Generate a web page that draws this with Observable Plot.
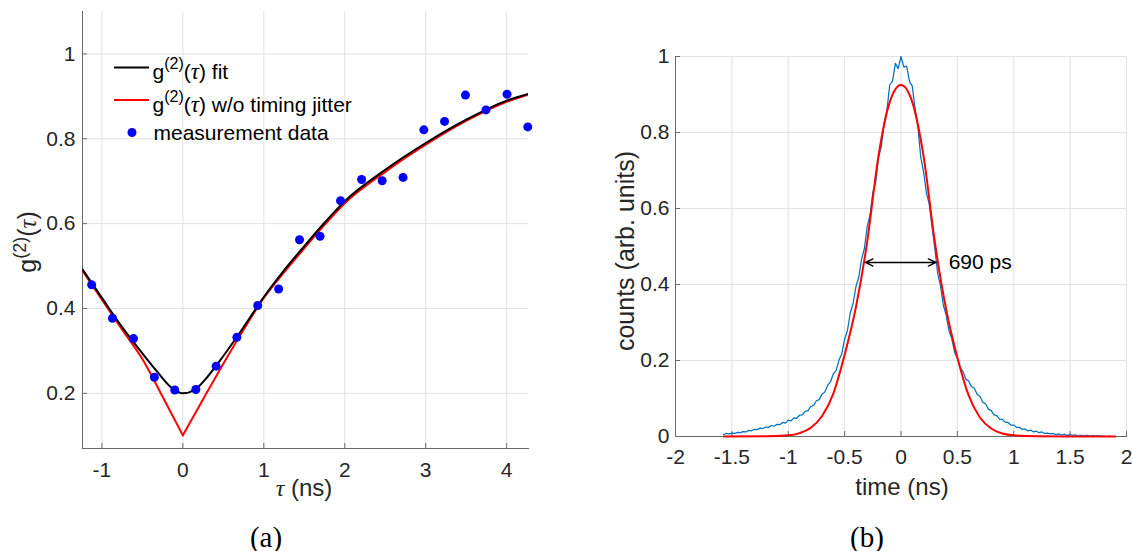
<!DOCTYPE html>
<html><head><meta charset="utf-8">
<script src="https://cdn.jsdelivr.net/npm/d3@7"></script>
<script src="https://cdn.jsdelivr.net/npm/@observablehq/plot@0.6"></script>
<style>
body{margin:0;background:#fff;}
#wrap{position:relative;width:1133px;height:551px;overflow:hidden;background:#fff;font-family:"Liberation Sans",Arial,sans-serif;}
.panel{position:absolute;top:0;}
.lab{position:absolute;white-space:nowrap;line-height:1;color:#262626;font-size:24px;transform:translate(-50%,-50%);}
.big{font-size:25px;}
.rot{transform:translate(-50%,-50%) rotate(-90deg);}
.cap{position:absolute;font-family:"Liberation Serif","Times New Roman",serif;font-size:29px;line-height:1;color:#000;transform:translate(-50%,-50%);}
.tau{font-family:"Liberation Serif","Times New Roman",serif;font-style:italic;}
sup{font-size:18px;vertical-align:0;position:relative;top:-10px;}
</style></head><body><div id="wrap"></div>
<script>
// ---------- panel (a) data ----------
const tauTicks = [-1, 0, 1, 2, 3, 4];
const g2Ticks = [0.2, 0.4, 0.6, 0.8, 1];
const tauDomain = [-1.24, 4.27];
const g2Domain = [0.07, 1.1];
const measTau = [-1.127, -0.870, -0.610, -0.352, -0.100, 0.160, 0.411, 0.667, 0.925, 1.183, 1.441, 1.695, 1.948, 2.208, 2.462, 2.720, 2.977, 3.233, 3.491, 3.745, 4.005, 4.261];
const measG2 = [0.456, 0.377, 0.329, 0.238, 0.208, 0.209, 0.264, 0.332, 0.407, 0.446, 0.562, 0.570, 0.654, 0.704, 0.701, 0.709, 0.821, 0.841, 0.903, 0.868, 0.905, 0.828];
const fitTau = [-1.24, -1.0, -0.75, -0.5, -0.3, -0.15, 0, 0.15, 0.3, 0.5, 0.75, 1.0, 1.25, 1.5, 1.75, 2.0, 2.5, 3.0, 3.5, 4.0, 4.27];
const fitG2 = [0.492, 0.425, 0.356, 0.294, 0.247, 0.215, 0.200, 0.209, 0.238, 0.288, 0.356, 0.427, 0.490, 0.547, 0.602, 0.653, 0.727, 0.790, 0.845, 0.890, 0.906];
const idealLeftTau = [-1.24, -1.0, -0.75, -0.5, -0.25, 0];
const idealLeftG2 = [0.489, 0.421, 0.350, 0.281, 0.192, 0.101];
const idealRightTau = [0, 0.25, 0.5, 0.75, 1.0, 1.25, 1.5, 1.75, 2.0, 2.5, 3.0, 3.5, 4.0, 4.27];
const idealRightG2 = [0.101, 0.186, 0.270, 0.350, 0.425, 0.485, 0.542, 0.597, 0.648, 0.722, 0.786, 0.842, 0.887, 0.904];

// ---------- panel (b) data ----------
const timeTicks = [-2, -1.5, -1, -0.5, 0, 0.5, 1, 1.5, 2];
const countTicks = [0, 0.2, 0.4, 0.6, 0.8, 1];
const timeDomain = [-2, 2];
const countDomain = [0, 1];
const histTime = [
-1.575,-1.55,-1.525,-1.5,-1.475,-1.45,-1.425,-1.4,-1.375,-1.35,
-1.325,-1.3,-1.275,-1.25,-1.225,-1.2,-1.175,-1.15,-1.125,-1.1,
-1.075,-1.05,-1.025,-1,-0.975,-0.95,-0.925,-0.9,-0.875,-0.85,
-0.825,-0.8,-0.775,-0.75,-0.725,-0.7,-0.675,-0.65,-0.625,-0.6,
-0.575,-0.55,-0.525,-0.5,-0.475,-0.45,-0.425,-0.4,-0.375,-0.35,
-0.325,-0.3,-0.275,-0.25,-0.225,-0.2,-0.175,-0.15,-0.125,-0.1,
-0.075,-0.05,-0.025,0,0.025,0.05,0.075,0.1,0.125,0.15,
0.175,0.2,0.225,0.25,0.275,0.3,0.325,0.35,0.375,0.4,
0.425,0.45,0.475,0.5,0.525,0.55,0.575,0.6,0.625,0.65,
0.675,0.7,0.725,0.75,0.775,0.8,0.825,0.85,0.875,0.9,
0.925,0.95,0.975,1,1.025,1.05,1.075,1.1,1.125,1.15,
1.175,1.2,1.225,1.25,1.275,1.3,1.325,1.35,1.375,1.4,
1.425,1.45,1.475,1.5,1.525,1.55,1.575,1.6,1.625,1.65,
1.675,1.7,1.725,1.75,1.775,1.8,1.825,1.85,1.875];
const histCounts = [
0.005,0.008,0.007,0.009,0.008,0.011,0.010,0.013,0.012,0.016,
0.015,0.019,0.018,0.022,0.021,0.025,0.024,0.029,0.027,0.032,
0.031,0.037,0.035,0.043,0.041,0.049,0.048,0.056,0.057,0.066,
0.068,0.079,0.082,0.094,0.097,0.112,0.117,0.135,0.144,0.165,
0.174,0.201,0.218,0.256,0.279,0.325,0.350,0.394,0.419,0.466,
0.494,0.552,0.583,0.642,0.668,0.733,0.762,0.824,0.858,0.925,
0.935,0.982,0.968,1.000,0.972,0.975,0.935,0.922,0.862,0.815,
0.735,0.697,0.642,0.612,0.553,0.495,0.430,0.397,0.346,0.320,
0.279,0.258,0.222,0.205,0.181,0.171,0.151,0.146,0.131,0.127,
0.111,0.106,0.090,0.086,0.072,0.068,0.057,0.055,0.045,0.045,
0.037,0.037,0.030,0.030,0.024,0.024,0.019,0.020,0.015,0.017,
0.012,0.014,0.010,0.012,0.008,0.009,0.007,0.008,0.005,0.007,
0.004,0.006,0.003,0.005,0.003,0.004,0.002,0.003,0.002,0.003,
0.001,0.002,0.001,0.002,0.001,0.001,0.000,0.001,0.000];
const gaussTime = [-1.57, -1.2, -1.0, -0.9, -0.8, -0.7, -0.6, -0.5, -0.4, -0.3, -0.2, -0.1, 0, 0.1, 0.2, 0.3, 0.4, 0.5, 0.6, 0.7, 0.8, 0.9, 1.0, 1.2, 1.5, 1.9];
const gaussCounts = [0, 0.0005, 0.003, 0.009, 0.023, 0.054, 0.113, 0.215, 0.340, 0.512, 0.738, 0.880, 0.925, 0.880, 0.738, 0.512, 0.335, 0.208, 0.108, 0.050, 0.021, 0.008, 0.003, 0.0005, 0, 0];
const arrowStart = [0, 0];
const arrowEnd = [-0.316, 0.31];
const arrowLevel = 0.458;
const annotText = "690 ps";
const annotTime = 0.423;

// ---------- helpers ----------
const FONT = "Liberation Sans, Arial, Helvetica, sans-serif";
const GRID = "#e2e2e2";
const AXIS = "#6a6a6a";
const TXT = "#262626";
const fmt = d => String(d);

// ---------- panel (a) ----------
const Lw = 560, Lh = 500, Lml = 82, Lmr = 32, Lmt = 11, Lmb = 52;
const fitData = fitTau.map((t, i) => ({t, g: fitG2[i]}));
const idealData = [
  ...idealLeftTau.map((t, i) => ({t, g: idealLeftG2[i], b: "left"})),
  ...idealRightTau.map((t, i) => ({t, g: idealRightG2[i], b: "right"}))
];
const measData = measTau.map((t, i) => ({t, g: measG2[i]}));

const left = Plot.plot({
  width: Lw, height: Lh,
  marginLeft: Lml, marginRight: Lmr, marginTop: Lmt, marginBottom: Lmb,
  x: {domain: tauDomain},
  y: {domain: g2Domain},
  style: {fontFamily: FONT, fontSize: "21px", color: TXT, background: "transparent", overflow: "visible"},
  marks: [
    Plot.gridX(tauTicks, {stroke: GRID, strokeOpacity: 1}),
    Plot.gridY(g2Ticks, {stroke: GRID, strokeOpacity: 1}),
    Plot.tickX(tauTicks, {x: d => d, stroke: AXIS, insetTop: Lh - Lmt - Lmb - 5}),
    Plot.tickY(g2Ticks, {y: d => d, stroke: AXIS, insetRight: Lw - Lml - Lmr - 5}),
    Plot.frame({anchor: "left", stroke: AXIS}),
    Plot.frame({anchor: "bottom", stroke: AXIS}),
    Plot.axisX({ticks: tauTicks, tickSize: 0, tickPadding: 14, tickFormat: fmt, fontSize: 21, fill: TXT, label: null}),
    Plot.axisY({ticks: g2Ticks, tickSize: 0, tickPadding: 7, tickFormat: fmt, fontSize: 21, fill: TXT, label: null}),
    Plot.line(idealData, {x: "t", y: "g", z: "b", stroke: "#ff0000", strokeWidth: 2, curve: "monotone-x", clip: true}),
    Plot.line(fitData, {x: "t", y: "g", stroke: "#000000", strokeWidth: 2, curve: "monotone-x", clip: true}),
    Plot.dot(measData, {x: "t", y: "g", r: 4.5, fill: "#0000ff", stroke: null})
  ]
});
left.classList.add("panel");
left.style.left = "0px";

// legend for (a)
const lg = d3.select(left).append("g")
  .attr("font-family", FONT).attr("font-size", 21).attr("fill", "#000").attr("text-anchor", "start");
function g2Text(sel, x, y, rest) {
  const t = sel.append("text").attr("x", x).attr("y", y).attr("text-anchor", "start");
  t.append("tspan").text("g");
  t.append("tspan").attr("font-size", 16).attr("dy", -10).text("(2)");
  t.append("tspan").attr("dy", 10).text("(");
  t.append("tspan").attr("font-family", "Liberation Serif, Times New Roman, serif").attr("font-style", "italic").attr("font-size", 23).text("τ");
  t.append("tspan").text(")" + rest);
}
lg.append("line").attr("x1", 114).attr("x2", 149).attr("y1", 67.5).attr("y2", 67.5).attr("stroke", "#000").attr("stroke-width", 2);
g2Text(lg, 152.5, 78.5, " fit");
lg.append("line").attr("x1", 114).attr("x2", 149).attr("y1", 100).attr("y2", 100).attr("stroke", "#ff0000").attr("stroke-width", 2);
g2Text(lg, 152.5, 112, " w/o timing jitter");
lg.append("circle").attr("cx", 132).attr("cy", 132.5).attr("r", 4.5).attr("fill", "#0000ff");
lg.append("text").attr("x", 153.5).attr("y", 140).attr("text-anchor", "start").text("measurement data");

// ---------- panel (b) ----------
const Rw = 553, Rh = 500, Rml = 95, Rmr = 7, Rmt = 56, Rmb = 64;
const histData = histTime.map((t, i) => ({t, c: histCounts[i]}));
const gaussData = gaussTime.map((t, i) => ({t, c: gaussCounts[i]}));
const arrows = arrowEnd.map((e, i) => ({x1: arrowStart[i], x2: e, y: arrowLevel}));

const right = Plot.plot({
  width: Rw, height: Rh,
  marginLeft: Rml, marginRight: Rmr, marginTop: Rmt, marginBottom: Rmb,
  x: {domain: timeDomain},
  y: {domain: countDomain},
  style: {fontFamily: FONT, fontSize: "21px", color: TXT, background: "transparent", overflow: "visible"},
  marks: [
    Plot.gridX(timeTicks, {stroke: GRID, strokeOpacity: 1}),
    Plot.gridY(countTicks, {stroke: GRID, strokeOpacity: 1}),
    Plot.tickX(timeTicks, {x: d => d, stroke: AXIS, insetTop: Rh - Rmt - Rmb - 5}),
    Plot.tickY(countTicks, {y: d => d, stroke: AXIS, insetRight: Rw - Rml - Rmr - 5}),
    Plot.frame({anchor: "left", stroke: AXIS}),
    Plot.frame({anchor: "bottom", stroke: AXIS}),
    Plot.axisX({ticks: timeTicks, tickSize: 0, tickPadding: 13, tickFormat: fmt, fontSize: 21, fill: TXT, label: null}),
    Plot.axisY({ticks: countTicks, tickSize: 0, tickPadding: 6, tickFormat: fmt, fontSize: 21, fill: TXT, label: null}),
    Plot.line(histData, {x: "t", y: "c", stroke: "#0072bd", strokeWidth: 1.25}),
    Plot.line(gaussData, {x: "t", y: "c", stroke: "#ff0000", strokeWidth: 2, curve: "monotone-x"}),
    Plot.arrow(arrows, {x1: "x1", x2: "x2", y1: "y", y2: "y", stroke: "#000", strokeWidth: 1.4, headLength: 9, headAngle: 50}),
    Plot.text([annotText], {x: annotTime, y: arrowLevel, text: d => d, textAnchor: "start", lineAnchor: "middle", fontSize: 21, fill: "#000"})
  ]
});
right.classList.add("panel");
right.style.left = "580px";

const wrap = document.getElementById("wrap");
wrap.appendChild(left);
wrap.appendChild(right);

// axis labels and captions
function addDiv(cls, html, x, y) {
  const d = document.createElement("div");
  d.className = cls;
  d.innerHTML = html;
  d.style.left = x + "px";
  d.style.top = y + "px";
  wrap.appendChild(d);
}
addDiv("lab", '<span class="tau">τ</span> (ns)', 304, 488);
addDiv("lab big rot", 'g<sup>(2)</sup>(<span class="tau">τ</span>)', 27, 242);
addDiv("lab", 'time (ns)', 902, 487);
addDiv("lab big rot", 'counts (arb. units)', 625, 251);
addDiv("cap", '(a)', 266, 537);
addDiv("cap", '(b)', 867, 537);
</script></body></html>
